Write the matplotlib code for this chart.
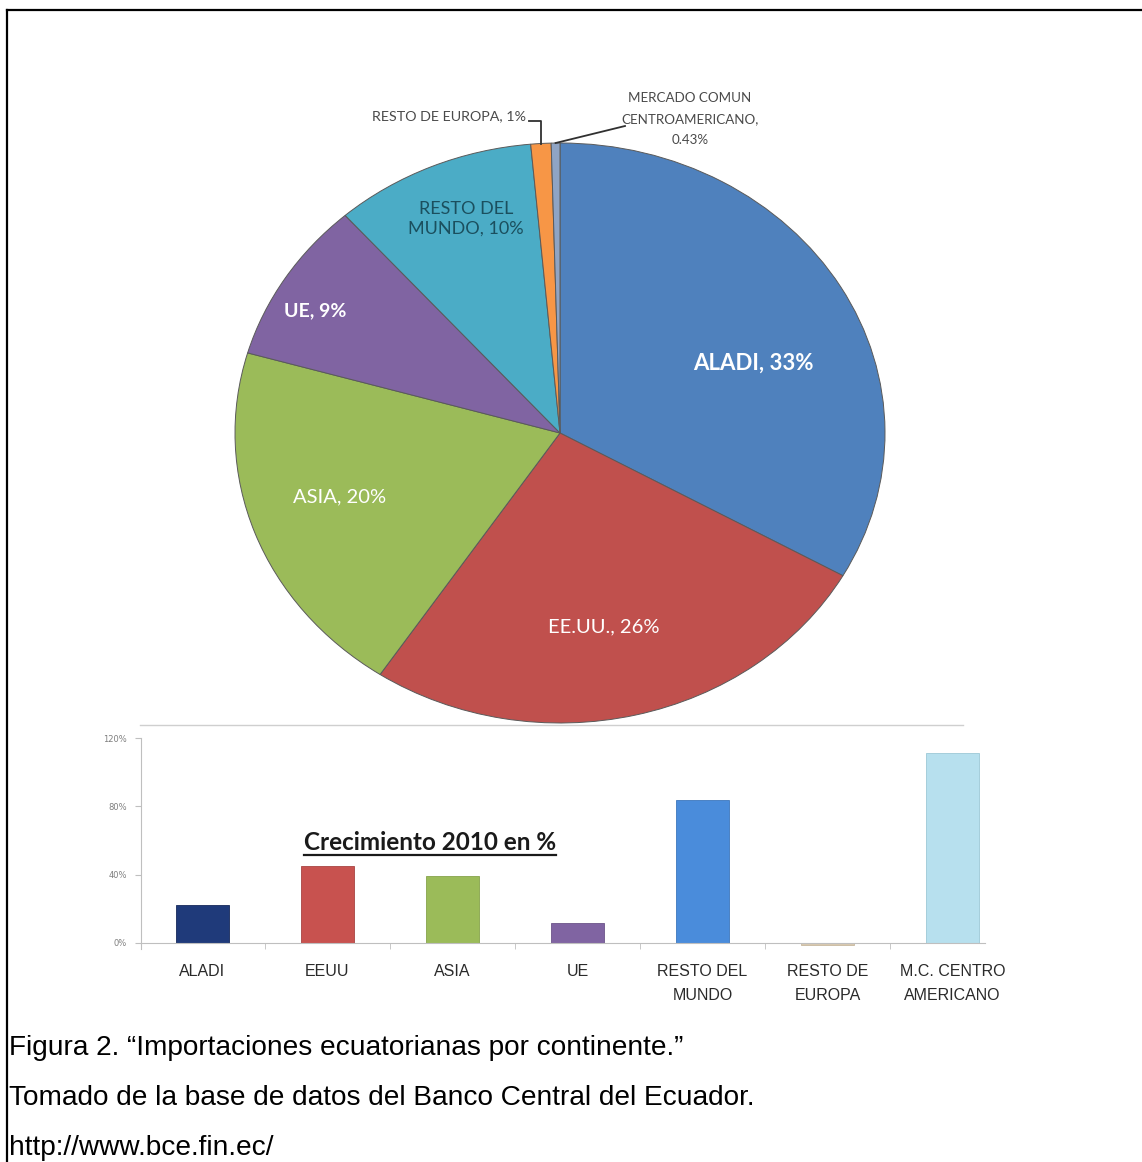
import matplotlib
matplotlib.use('Agg')
import matplotlib.pyplot as plt
import numpy as np
from matplotlib.lines import Line2D

W, H, DPI = 1142, 1162, 100

# ---------------- data ----------------
pie_labels = ['ALADI', 'EE.UU.', 'ASIA', 'UE', 'RESTO DEL\nMUNDO',
              'RESTO DE EUROPA', 'MERCADO COMUN\nCENTROAMERICANO']
pie_values = [33, 26, 20, 9, 10, 1, 0.43]
pie_value_text = ['33%', '26%', '20%', '9%', '10%', '1%', '0.43%']
pie_colors = ['#4F81BD', '#C0504D', '#9BBB59', '#8064A2', '#4BACC6',
              '#F79646', '#8FA4C4']

bar_categories = ['ALADI', 'EEUU', 'ASIA', 'UE', 'RESTO DEL\nMUNDO',
                  'RESTO DE\nEUROPA', 'M.C. CENTRO\nAMERICANO']
bar_values = [0.22, 0.45, 0.39, 0.12, 0.84, -0.01, 1.11]
bar_colors = ['#1F3A7A', '#C8524F', '#9BBB59', '#8064A2', '#4A8CDB',
              '#D9C9B0', '#B7E0EE']
bar_yticks = [0, 0.4, 0.8, 1.2]
bar_yticklabels = ['0%', '40%', '80%', '120%']
bar_title = 'Crecimiento 2010 en %'

caption_lines = ['Figura 2. \u201cImportaciones ecuatorianas por continente.\u201d',
                 'Tomado de la base de datos del Banco Central del Ecuador.',
                 'http://www.bce.fin.ec/']

LABEL_FONT = ['Lato', 'DejaVu Sans']

fig = plt.figure(figsize=(W / DPI, H / DPI), dpi=DPI)
fig.patch.set_facecolor('white')


def fx(px):
    return px / W


def fy(py):
    return 1 - py / H


# overlay axes in pixel coordinates
ov = fig.add_axes([0, 0, 1, 1], zorder=-1)
ov.set_xlim(0, W)
ov.set_ylim(H, 0)
ov.axis('off')

# frame (top + left)
ov.add_line(Line2D([7, W], [10, 10], color='black', lw=1.6))
ov.add_line(Line2D([7, 7], [10, H], color='black', lw=1.6))
# thin grey separator line under the pie
ov.add_line(Line2D([140, 963], [725, 725], color='#CFCFCF', lw=1.0))

# ---------------- pie ----------------
cx, cy, rx, ry = 560, 433, 325, 290
ax_pie = fig.add_axes([fx(cx - rx), fy(cy + ry), 2 * rx / W, 2 * ry / H])
wedges, _ = ax_pie.pie(pie_values, colors=pie_colors, startangle=90,
                       counterclock=False, radius=1,
                       wedgeprops=dict(edgecolor='#5a5a5a', linewidth=0.7))
ax_pie.set_aspect('auto')
ax_pie.set_xlim(-1, 1)
ax_pie.set_ylim(-1, 1)
ax_pie.axis('off')


def p2d(px, py):
    return (px - cx) / rx, (cy - py) / ry


inner = [
    # idx, pixel pos, color, size, weight
    (0, (753, 363), 'white', 16, 'bold'),
    (1, (604, 627), 'white', 14.5, 'normal'),
    (2, (340, 497), 'white', 14.5, 'normal'),
    (3, (315, 311), 'white', 14, 'bold'),
    (4, (466, 219), '#1B4F5E', 13, 'normal'),
]
for idx, (px, py), col, fs, fw in inner:
    txt = pie_labels[idx] + ', ' + pie_value_text[idx]
    x, y = p2d(px, py)
    ax_pie.text(x, y, txt, ha='center', va='center', color=col, fontsize=fs,
                fontweight=fw, family=LABEL_FONT, linespacing=1.25)

# outside labels with leader lines
# RESTO DE EUROPA
w = wedges[5]
mid = np.deg2rad((w.theta1 + w.theta2) / 2)
x0, y0 = np.cos(mid), np.sin(mid)
ly = p2d(0, 121)[1]
lx_end = p2d(529, 0)[0]
ax_pie.add_line(Line2D([x0, x0, lx_end], [y0, ly, ly], color='#303030',
                       lw=1.3, clip_on=False))
tx, ty = p2d(526, 116)
ax_pie.text(tx, ty, pie_labels[5] + ', ' + pie_value_text[5], ha='right',
            va='center', color='#4a4a4a', fontsize=10.3, family=LABEL_FONT)

# MERCADO COMUN CENTROAMERICANO
w = wedges[6]
mid = np.deg2rad((w.theta1 + w.theta2) / 2)
x0, y0 = np.cos(mid), np.sin(mid)
ex, ey = p2d(625, 126)
ax_pie.add_line(Line2D([x0, ex], [y0, ey], color='#303030', lw=1.3,
                       clip_on=False))
tx, ty = p2d(690, 119)
ax_pie.text(tx, ty, pie_labels[6] + ',\n' + pie_value_text[6], ha='center',
            va='center', color='#4a4a4a', fontsize=9.6, family=LABEL_FONT,
            linespacing=1.85)

# ---------------- bars ----------------
y0px, y120px = 943, 738
ppu = (y0px - y120px) / 1.2
ybot = -0.035
bot_px = y0px - ybot * ppu
left_px, right_px = 141, 985
ax_bar = fig.add_axes([fx(left_px), fy(bot_px), (right_px - left_px) / W,
                       (bot_px - y120px) / H])
xpos = np.arange(len(bar_categories))
ax_bar.bar(xpos, bar_values, width=0.42, color=bar_colors, linewidth=0.6,
           edgecolor=['#16295a', '#a84442', '#86a34b', '#6c5489', '#3d77bd',
                      '#c8b89e', '#9cc8d6'])
ax_bar.set_xlim(-0.49, 6.26)
ax_bar.set_ylim(ybot, 1.2)
for s in ['top', 'right']:
    ax_bar.spines[s].set_visible(False)
ax_bar.spines['left'].set_color('#BFBFBF')
ax_bar.spines['bottom'].set_color('#BFBFBF')
ax_bar.spines['bottom'].set_position(('data', 0))
ax_bar.set_yticks(bar_yticks)
ax_bar.set_yticklabels(bar_yticklabels)
ax_bar.tick_params(axis='y', length=4, color='#BFBFBF', labelsize=6,
                   labelcolor='#7F7F7F', pad=6)
ax_bar.set_xticks(xpos)
ax_bar.set_xticklabels(bar_categories)
ax_bar.set_xticks(xpos[:-1] + 0.5, minor=True)
ax_bar.tick_params(axis='x', which='major', length=0, pad=15, labelsize=11.5,
                   labelcolor='#2a2a2a')
ax_bar.tick_params(axis='x', which='minor', length=4, color='#BFBFBF')
for t in ax_bar.get_xticklabels():
    t.set_family(['Liberation Sans Narrow', 'Liberation Sans', 'DejaVu Sans'])
    t.set_linespacing(1.75)
ax_bar.patch.set_alpha(0)

# bar title (underlined)
tt = ov.text(430, 842, bar_title, ha='center', va='center', fontsize=17.5,
             fontweight='bold', family=LABEL_FONT, color='#1a1a1a')

# ---------------- caption ----------------
cap_font = ['Liberation Sans', 'DejaVu Sans']
fig.canvas.draw()
r = fig.canvas.get_renderer()
probe = ov.text(0, 0, caption_lines[1], fontsize=20, family=cap_font)
wpx = probe.get_window_extent(r).width
probe.remove()
cap_fs = 20 * 744 / wpx
for line, base in zip(caption_lines, [1055, 1105, 1155]):
    ov.text(9, base, line, ha='left', va='baseline', fontsize=cap_fs,
            family=cap_font, color='black')

fig.canvas.draw()
bb = tt.get_window_extent(r)
inv = ov.transData.inverted()
(xa, ya), (xb, yb) = inv.transform([[bb.x0, bb.y0], [bb.x1, bb.y1]])
uy = max(ya, yb) + 1
ov.add_line(Line2D([xa, xb], [uy, uy], color='#1a1a1a', lw=1.6))

fig.savefig('out.png', dpi=DPI, facecolor='white')
